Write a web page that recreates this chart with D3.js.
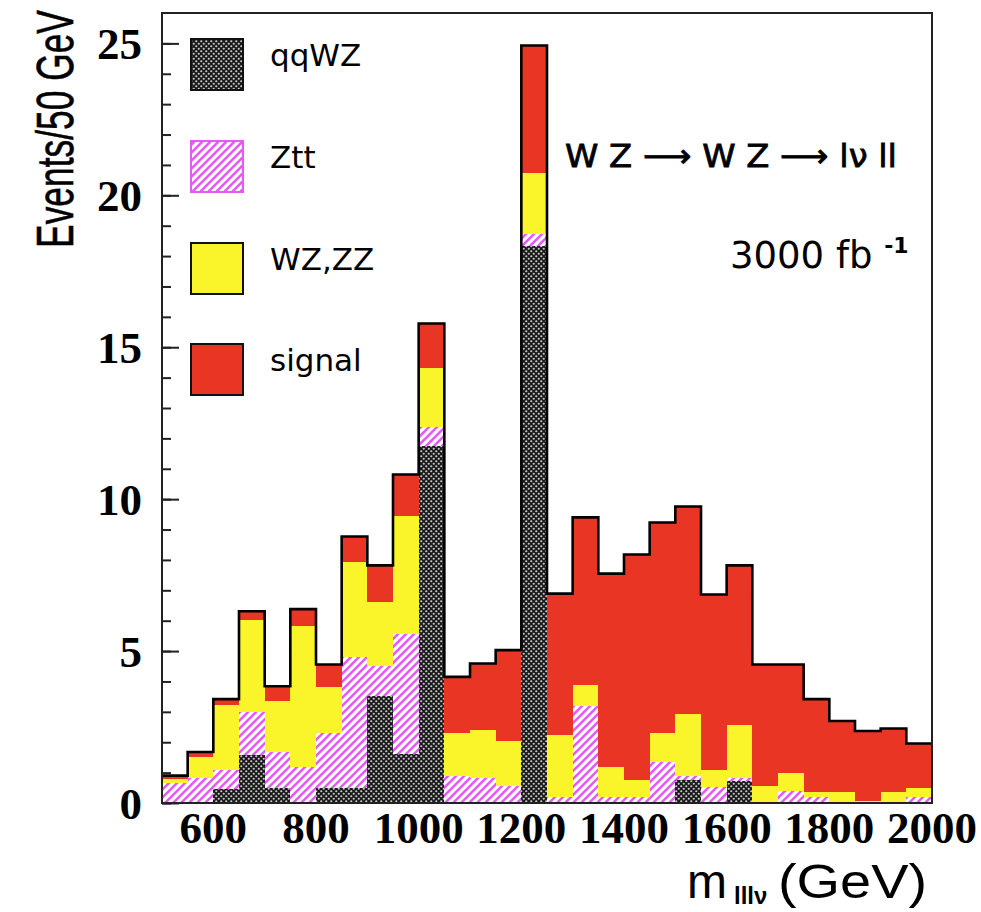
<!DOCTYPE html>
<html>
<head>
<meta charset="utf-8">
<script src="https://cdn.jsdelivr.net/npm/d3@7"></script>
<style>
  body { margin: 0; background: #fff; }
  svg { display: block; }
</style>
</head>
<body>
<div id="chart"></div>
<script>
// bin low edges (GeV), 50 GeV wide
var binLow = [500, 550, 600, 650, 700, 750, 800, 850, 900, 950,
              1000, 1050, 1100, 1150, 1200, 1250, 1300, 1350, 1400, 1450,
              1500, 1550, 1600, 1650, 1700, 1750, 1800, 1850, 1900, 1950];

// stacked contributions, bottom to top
var qqWZ   = [0, 0, 0.45, 1.58, 0.48, 0, 0.48, 0.48, 3.52, 1.61,
              11.74, 0, 0, 0, 18.33, 0, 0, 0, 0, 0,
              0.76, 0, 0.72, 0, 0, 0, 0, 0, 0, 0];
var ztt    = [0.65, 0.81, 0.63, 1.42, 1.21, 1.18, 1.83, 4.31, 0.98, 3.94,
              0.65, 0.9, 0.81, 0.57, 0.39, 0.2, 3.19, 0.2, 0.2, 1.36,
              0.13, 0.54, 0.09, 0, 0.4, 0.2, 0, 0, 0, 0.2];
var wzzz   = [0.15, 0.71, 2.14, 3.01, 1.67, 4.63, 1.51, 3.14, 2.11, 3.88,
              1.94, 1.41, 1.59, 1.48, 2.01, 2.03, 0.69, 0.97, 0.56, 0.95,
              2.03, 0.54, 1.77, 0.56, 0.6, 0.17, 0.37, 0.05, 0.37, 0.28];
var signal = [0.1, 0.16, 0.2, 0.3, 0.48, 0.57, 0.74, 0.84, 1.21, 1.38,
              1.45, 1.84, 2.19, 2.98, 4.2, 4.66, 5.52, 6.38, 7.42, 6.92,
              6.84, 5.78, 5.24, 4.0, 3.56, 3.05, 2.33, 2.32, 2.08, 1.48];

var binWidth = 50;
var xTicks = [600, 800, 1000, 1200, 1400, 1600, 1800, 2000];
var yTicks = [0, 5, 10, 15, 20, 25];
var legendNames = ["qqWZ", "Ztt", "WZ,ZZ", "signal"];

var W = 981, H = 912;
var plot = { left: 162, right: 932, top: 13, bottom: 803 };

var svg = d3.select("#chart").append("svg")
  .attr("width", W).attr("height", H);

// fill patterns
var defs = svg.append("defs");
var dots = defs.append("pattern").attr("id", "dots")
  .attr("patternUnits", "userSpaceOnUse").attr("width", 5).attr("height", 5);
dots.append("rect").attr("width", 5).attr("height", 5).attr("fill", "#1a1a1a");
dots.append("circle").attr("cx", 1.25).attr("cy", 1.25).attr("r", 1.1).attr("fill", "#c8c8c8");
dots.append("circle").attr("cx", 3.75).attr("cy", 3.75).attr("r", 1.1).attr("fill", "#c8c8c8");

var hatch = defs.append("pattern").attr("id", "hatch")
  .attr("patternUnits", "userSpaceOnUse").attr("width", 8).attr("height", 8);
hatch.append("rect").attr("width", 8).attr("height", 8).attr("fill", "#fff");
hatch.append("path").attr("d", "M-2,2 l4,-4 M0,8 l8,-8 M6,10 l4,-4")
  .attr("stroke", "#e35cf2").attr("stroke-width", 2.6);

var x = d3.scaleLinear().domain([500, 2000]).range([plot.left, plot.right]);
var y = d3.scaleLinear().domain([0, 26]).range([plot.bottom, plot.top]);

var layers = [
  { vals: qqWZ, fill: "url(#dots)" },
  { vals: ztt, fill: "url(#hatch)" },
  { vals: wzzz, fill: "#faf52a" },
  { vals: signal, fill: "#e93524" }
];

// stack
var base = binLow.map(function () { return 0; });
layers.forEach(function (layer) {
  var lo = base.slice();
  var hi = lo.map(function (b, i) { return b + layer.vals[i]; });
  svg.append("g").selectAll("rect")
    .data(binLow)
    .enter().append("rect")
    .attr("x", function (d) { return x(d); })
    .attr("width", function (d) { return x(d + binWidth) - x(d); })
    .attr("y", function (d, i) { return y(hi[i]); })
    .attr("height", function (d, i) { return y(lo[i]) - y(hi[i]); })
    .attr("fill", layer.fill)
    .attr("shape-rendering", "crispEdges");
  base = hi;
});

// outline of the total
var total = base;
var pts = [];
binLow.forEach(function (d, i) {
  pts.push([x(d), y(total[i])]);
  pts.push([x(d + binWidth), y(total[i])]);
});
svg.append("path")
  .attr("d", d3.line()(pts))
  .attr("fill", "none")
  .attr("stroke", "#000")
  .attr("stroke-width", 2.6);

// frame
svg.append("rect")
  .attr("x", plot.left).attr("y", plot.top)
  .attr("width", plot.right - plot.left).attr("height", plot.bottom - plot.top)
  .attr("fill", "none").attr("stroke", "#222").attr("stroke-width", 2);

// y axis ticks: major every 5, minor every 1
var yAxis = d3.axisRight(y).tickValues(yTicks).tickSize(17).tickFormat("");
svg.append("g").attr("transform", "translate(" + plot.left + ",0)").call(yAxis)
  .call(function (g) { g.select(".domain").remove(); })
  .selectAll("line").attr("stroke", "#222").attr("stroke-width", 2);
var yMinor = d3.axisRight(y).tickValues(d3.range(0, 26, 1)).tickSize(9).tickFormat("");
svg.append("g").attr("transform", "translate(" + plot.left + ",0)").call(yMinor)
  .call(function (g) { g.select(".domain").remove(); })
  .selectAll("line").attr("stroke", "#222").attr("stroke-width", 2);

// tick labels
svg.append("g").selectAll("text").data(yTicks).enter().append("text")
  .attr("x", 142).attr("y", function (d) { return y(d) + 16; })
  .attr("text-anchor", "end")
  .style("font-family", "'Liberation Serif', serif").style("font-weight", "bold")
  .style("font-size", "45px")
  .text(function (d) { return d; });

svg.append("g").selectAll("text").data(xTicks).enter().append("text")
  .attr("x", function (d) { return x(d); }).attr("y", 843)
  .attr("text-anchor", "middle")
  .style("font-family", "'Liberation Serif', serif").style("font-weight", "bold")
  .style("font-size", "45px")
  .text(function (d) { return d; });

// axis titles
var sans = "'Liberation Sans', Arial, sans-serif";
svg.append("text")
  .attr("transform", "translate(73,129) rotate(-90) scale(0.68,1)")
  .attr("text-anchor", "middle")
  .style("font-family", sans)
  .style("font-size", "52px")
  .attr("stroke", "#000").attr("stroke-width", 0.6)
  .text("Events/50 GeV");

svg.append("text").attr("x", 687).attr("y", 898)
  .style("font-family", sans).style("font-size", "48px").text("m");
svg.append("text").attr("x", 734).attr("y", 904)
  .style("font-family", sans).style("font-size", "24px").style("font-weight", "bold")
  .text("lllν");
svg.append("text").attr("x", 778).attr("y", 898)
  .attr("textLength", 149).attr("lengthAdjust", "spacingAndGlyphs")
  .style("font-family", sans).style("font-size", "48px").text("(GeV)");

// process and luminosity labels
svg.append("text")
  .attr("x", 565).attr("y", 167)
  .attr("textLength", 332).attr("lengthAdjust", "spacingAndGlyphs")
  .style("font-family", "'DejaVu Sans', sans-serif")
  .style("font-size", "32px")
  .attr("stroke", "#000").attr("stroke-width", 0.8)
  .text("W Z \u27F6 W Z \u27F6 lν ll");

var lumi = svg.append("text")
  .attr("x", 730).attr("y", 268)
  .style("font-family", "'DejaVu Sans', sans-serif")
  .style("font-size", "37px");
lumi.append("tspan").text("3000 fb ");
lumi.append("tspan").attr("dy", -15).style("font-size", "22px").style("font-weight", "bold").text("-1");

// legend
var legendFill = ["url(#dots)", "url(#hatch)", "#faf52a", "#e93524"];
var legendStroke = ["#111", "#e35cf2", "#111", "#111"];
var legendY = [39, 141, 243, 344];
var lg = svg.append("g");
legendNames.forEach(function (name, i) {
  lg.append("rect")
    .attr("x", 191).attr("y", legendY[i])
    .attr("width", 52).attr("height", 51)
    .attr("fill", legendFill[i])
    .attr("stroke", legendStroke[i]).attr("stroke-width", 2);
  lg.append("text")
    .attr("x", 270).attr("y", legendY[i] + 27)
    .style("font-family", "'DejaVu Sans', sans-serif")
    .style("font-size", "31px")
    .text(name);
});
</script>
</body>
</html>
